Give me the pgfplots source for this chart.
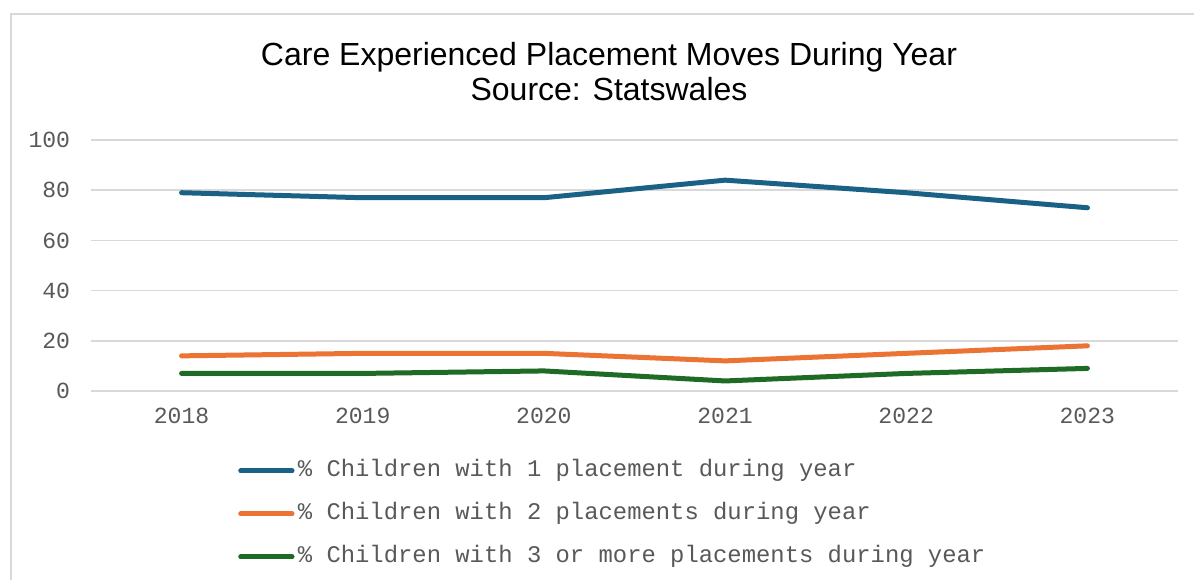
\documentclass[border=0pt]{standalone}
\usepackage{pgfplots}
\pgfplotsset{compat=1.18}
\usepackage{fontspec}
\setmainfont{Liberation Sans}
\newfontfamily\mono{Liberation Mono}
\definecolor{cblue}{HTML}{1A6186}
\definecolor{corange}{HTML}{EB7333}
\definecolor{cgreen}{HTML}{1E6B25}
\definecolor{tgray}{HTML}{595959}
\definecolor{gridc}{HTML}{D9D9D9}
\begin{document}
\begin{tikzpicture}
\useasboundingbox (0,0) rectangle (895.5pt,-435pt);
\fill[white] (0,0) rectangle (895.5pt,-435pt);
\draw[gridc, line width=1.5pt] (8.6pt,-436pt) -- (8.6pt,-10.5pt) -- (896pt,-10.5pt);
\node[font=\fontsize{24}{27}\selectfont, anchor=base, inner sep=0pt] at (456.75pt,-49.5pt) {Care Experienced Placement Moves During Year};
\node[font=\fontsize{24}{27}\selectfont, anchor=base, inner sep=0pt] at (456.75pt,-75.75pt) {Source: Statswales};
\begin{axis}[
  at={(68.25pt,-293.25pt)}, anchor=south west,
  width=815.25pt, height=188.25pt, scale only axis,
  xmin=2017.5, xmax=2023.5, ymin=0, ymax=100,
  ytick={0,20,...,100}, xtick={2018,...,2023},
  axis line style={draw=none},
  major tick length=0pt,
  ymajorgrids, grid style={gridc, line width=1.1pt},
  /pgf/number format/assume math mode=true,
  /pgf/number format/1000 sep={},
  ticklabel style={font=\mono\fontsize{17.3}{20}\selectfont, text=tgray},
  yticklabel style={anchor=east, inner sep=0pt, xshift=-15.5pt},
  xticklabel style={anchor=center, inner sep=0pt, yshift=-18.75pt},
  clip=false,
  legend image code/.code={\draw[#1, line width=3.75pt, line cap=round] (0pt,0pt) -- (38.5pt,0pt);},
  legend style={at={(0.1352,-0.275)}, anchor=north west, draw=none, fill=none,
    inner sep=0pt, column sep=0pt, row sep=16.25pt,
    font=\mono\fontsize{17.9}{20}\selectfont, text=tgray,
    nodes={inner ysep=0pt, inner xsep=2.5pt, text height=12pt, text depth=4pt},
    cells={anchor=west}},
  every axis plot/.append style={line width=3.75pt, line cap=round, line join=round},
]
\addplot[cblue] coordinates {(2018,79) (2019,77) (2020,77) (2021,84) (2022,79) (2023,73)};
\addlegendentry{\% Children with 1 placement during year}
\addplot[corange] coordinates {(2018,14) (2019,15) (2020,15) (2021,12) (2022,15) (2023,18)};
\addlegendentry{\% Children with 2 placements during year}
\addplot[cgreen] coordinates {(2018,7) (2019,7) (2020,8) (2021,4) (2022,7) (2023,9)};
\addlegendentry{\% Children with 3 or more placements during year}
\end{axis}
\end{tikzpicture}
\end{document}
